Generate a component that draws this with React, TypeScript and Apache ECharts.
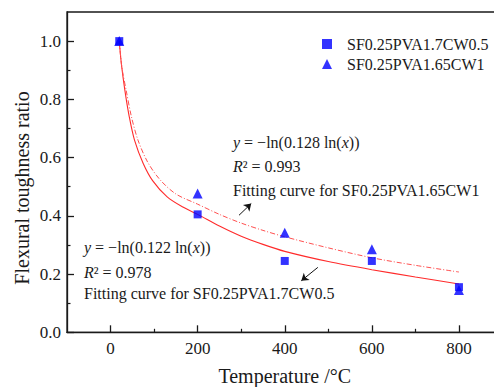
import React, { useEffect, useRef } from "react";
import * as echarts from "echarts";

// Measured points
const temperatures = [20, 200, 400, 600, 800];
const ratioCW05 = [1.0, 0.405, 0.245, 0.245, 0.155];
const ratioCW1 = [1.0, 0.477, 0.342, 0.285, 0.145];

// Fitting curves
const fitCW05X = [20, 25, 33, 43, 55, 75, 97, 130, 166, 200, 250, 300, 350, 400, 500, 600, 700, 800];
const fitCW05Y = [1.0, 0.92, 0.83, 0.74, 0.66, 0.58, 0.52, 0.465, 0.43, 0.405, 0.365, 0.33, 0.302, 0.278, 0.243, 0.215, 0.19, 0.166];
const fitCW1X = [20, 26, 36, 48, 63, 85, 113, 150, 200, 250, 300, 350, 400, 500, 600, 700, 800];
const fitCW1Y = [1.0, 0.91, 0.83, 0.74, 0.66, 0.585, 0.525, 0.475, 0.44, 0.405, 0.375, 0.35, 0.328, 0.29, 0.256, 0.23, 0.207];

// Annotation arrows (data coordinates: tail, head)
const arrowCW1 = [[295, 0.402], [323, 0.442]];
const arrowCW05 = [[476, 0.223], [438, 0.177]];

// Ticks
const xMajorTicks = [0, 200, 400, 600, 800];
const xMinorTicks = [100, 300, 500, 700];
const yMajorTicks = [0, 0.2, 0.4, 0.6, 0.8, 1.0];
const yMinorTicks = [0.1, 0.3, 0.5, 0.7, 0.9];

const nameCW05 = "SF0.25PVA1.7CW0.5";
const nameCW1 = "SF0.25PVA1.65CW1";

const FONT = "Liberation Serif";
const INK = "#1a1a1a";

export default function App() {
  const ref = useRef<HTMLDivElement>(null);
  useEffect(() => {
    if (!ref.current) return;
    const chart = echarts.init(ref.current, undefined, { renderer: "svg" });
    const axisLine = { show: true, onZero: false, lineStyle: { color: INK, width: 1.3 } };
    const rich = {
      i: { fontFamily: FONT, fontSize: 16, fontStyle: "italic", fill: INK },
    };
    const textEl = (x: number, y: number, text: string) => ({
      type: "text",
      x,
      y,
      silent: true,
      style: {
        text,
        rich,
        font: `16px ${FONT}`,
        fontFamily: FONT,
        fontSize: 16,
        fill: INK,
        align: "left",
        verticalAlign: "middle",
      },
    });
    chart.setOption({
      animation: false,
      backgroundColor: "#ffffff",
      textStyle: { fontFamily: FONT },
      grid: {
        left: 67,
        top: 12,
        right: -8.5,
        bottom: 54.7,
        show: true,
        borderColor: INK,
        borderWidth: 1.3,
        backgroundColor: "transparent",
        outerBoundsMode: "none",
      },
      legend: {
        orient: "vertical",
        left: 317,
        top: 31,
        itemWidth: 10,
        itemHeight: 10,
        itemGap: 4,
        textStyle: { fontFamily: FONT, fontSize: 16, color: INK, padding: [0, 0, 0, 10] },
        data: [nameCW05, nameCW1],
      },
      xAxis: [
        {
          type: "value",
          min: -100,
          max: 900,
          position: "bottom",
          axisLine,
          axisTick: { show: true, inside: true, length: 7, customValues: xMajorTicks, lineStyle: { color: INK, width: 1.3 } },
          axisLabel: { customValues: xMajorTicks, fontFamily: FONT, fontSize: 17, color: INK, margin: 8 },
          splitLine: { show: false },
          name: "Temperature /°C",
          nameLocation: "middle",
          nameGap: 34,
          nameTextStyle: { fontFamily: FONT, fontSize: 20, color: INK },
        },
        {
          type: "value",
          min: -100,
          max: 900,
          position: "bottom",
          axisLine: { show: false, onZero: false },
          axisTick: { show: true, inside: true, length: 3.5, customValues: xMinorTicks, lineStyle: { color: INK, width: 1.2 } },
          axisLabel: { show: false },
          splitLine: { show: false },
        },
      ],
      yAxis: [
        {
          type: "value",
          min: 0,
          max: 1.1,
          position: "left",
          axisLine,
          axisTick: { show: true, inside: true, length: 7, customValues: yMajorTicks, lineStyle: { color: INK, width: 1.3 } },
          axisLabel: {
            customValues: yMajorTicks,
            formatter: (v: number) => v.toFixed(1),
            fontFamily: FONT,
            fontSize: 17,
            color: INK,
            margin: 6,
          },
          splitLine: { show: false },
        },
        {
          type: "value",
          min: 0,
          max: 1.1,
          position: "left",
          axisLine: { show: false, onZero: false },
          axisTick: { show: true, inside: true, length: 3.5, customValues: yMinorTicks, lineStyle: { color: INK, width: 1.2 } },
          axisLabel: { show: false },
          splitLine: { show: false },
        },
      ],
      series: [
        {
          type: "line",
          name: "fitCW05",
          data: fitCW05X.map((x, i) => [x, fitCW05Y[i]]),
          smooth: 0.3,
          showSymbol: false,
          symbol: "none",
          silent: true,
          lineStyle: { color: "#ff2b2b", width: 1.1, type: "solid" },
          z: 3,
          markLine: {
            silent: true,
            symbol: ["none", "arrow"],
            symbolSize: 7,
            label: { show: false },
            lineStyle: { color: "#111", width: 1, type: "solid" },
            data: [
              [{ coord: arrowCW05[0] }, { coord: arrowCW05[1] }],
              [{ coord: arrowCW1[0] }, { coord: arrowCW1[1] }],
            ],
          },
        },
        {
          type: "line",
          name: "fitCW1",
          data: fitCW1X.map((x, i) => [x, fitCW1Y[i]]),
          smooth: 0.3,
          showSymbol: false,
          symbol: "none",
          silent: true,
          lineStyle: { color: "#ff5050", width: 1, type: [5, 2, 1, 2] },
          z: 3,
        },
        {
          type: "scatter",
          name: nameCW05,
          symbol: "rect",
          symbolSize: 8,
          itemStyle: { color: "#0000ff" },
          data: temperatures.map((t, i) => [t, ratioCW05[i]]),
          z: 5,
        },
        {
          type: "scatter",
          name: nameCW1,
          symbol: "triangle",
          symbolSize: 10,
          itemStyle: { color: "#0000ff" },
          data: temperatures.map((t, i) => [t, ratioCW1[i]]),
          z: 6,
        },
      ],
      graphic: [
        {
          type: "text",
          x: 22,
          y: 188,
          rotation: Math.PI / 2,
          silent: true,
          style: {
            text: "Flexural toughness ratio",
            font: `20px ${FONT}`,
            fontFamily: FONT,
            fontSize: 20,
            fill: INK,
            align: "center",
            verticalAlign: "middle",
          },
        },
        textEl(233, 142, "{i|y} = −ln(0.128 ln({i|x}))"),
        textEl(233, 166, "{i|R}² = 0.993"),
        textEl(233, 190, "Fitting curve for SF0.25PVA1.65CW1"),
        textEl(84, 247, "{i|y} = −ln(0.122 ln({i|x}))"),
        textEl(84, 272, "{i|R}² = 0.978"),
        textEl(84, 293, "Fitting curve for SF0.25PVA1.7CW0.5"),
      ],
    });
    return () => chart.dispose();
  }, []);
  return (
    <div
      ref={ref}
      style={{ position: "absolute", left: 0, top: 0, width: 494, height: 387, background: "#fff" }}
    />
  );
}
